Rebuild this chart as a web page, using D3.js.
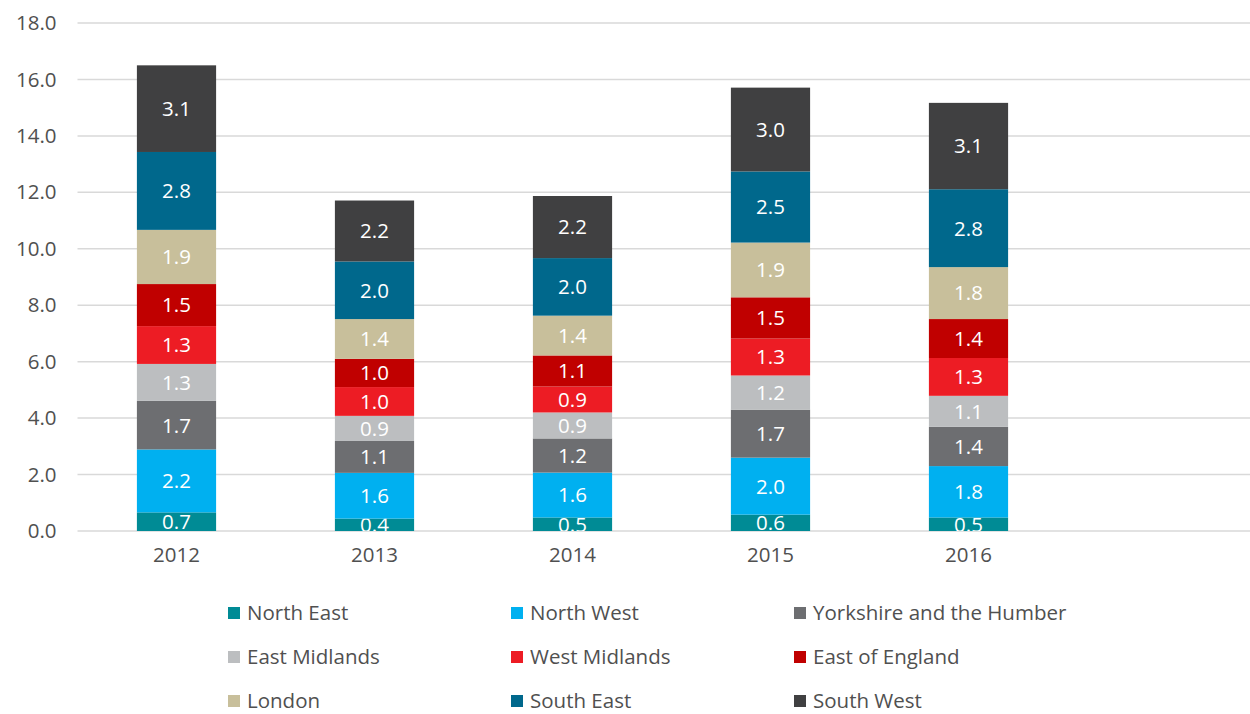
<!DOCTYPE html>
<html>
<head>
<meta charset="utf-8">
<script src="https://cdn.jsdelivr.net/npm/d3@7"></script>
<style>
  body { margin: 0; background: #fff; }
  svg { display: block; font-family: "Open Sans", sans-serif; }
</style>
</head>
<body>
<div id="chart"></div>
<script>
// categories (last slot is empty in the original)
const years = ["2012", "2013", "2014", "2015", "2016", ""];
const regions = ["North East", "North West", "Yorkshire and the Humber", "East Midlands",
  "West Midlands", "East of England", "London", "South East", "South West"];
const colors = ["#008b95", "#00b0f0", "#6d6e71", "#bcbec0", "#ed1c24", "#c00000", "#c8bf9b", "#00688c", "#404041"];

// values per region, one per year (2012..2016)
const northEast   = [0.66, 0.44, 0.48, 0.58, 0.48];
const northWest   = [2.23, 1.62, 1.59, 2.02, 1.82];
const yorkshire   = [1.72, 1.13, 1.21, 1.70, 1.39];
const eastMid     = [1.31, 0.89, 0.92, 1.21, 1.10];
const westMid     = [1.34, 1.02, 0.92, 1.31, 1.34];
const eastEngland = [1.49, 1.00, 1.10, 1.46, 1.38];
const london      = [1.92, 1.41, 1.41, 1.94, 1.84];
const southEast   = [2.76, 2.04, 2.04, 2.52, 2.76];
const southWest   = [3.07, 2.16, 2.20, 2.97, 3.06];

const yTicks = [0, 2, 4, 6, 8, 10, 12, 14, 16, 18];

const series = [northEast, northWest, yorkshire, eastMid, westMid, eastEngland, london, southEast, southWest];

const rows = years.slice(0, 5).map((yr, i) => {
  const r = { year: yr };
  regions.forEach((name, j) => r[name] = series[j][i]);
  return r;
});

const width = 1250, height = 714;
const margin = { top: 23, bottom: 183, left: 77.5 };
const fs = 20.5;
const textColor = "#505050";

const svg = d3.select("#chart").append("svg")
  .attr("width", width)
  .attr("height", height);

const x = d3.scaleBand()
  .domain(years)
  .range([margin.left, margin.left + 198 * 6])
  .paddingInner(0.6)
  .paddingOuter(0.3);

const y = d3.scaleLinear()
  .domain([0, 18])
  .range([height - margin.bottom, margin.top]);

// gridlines
svg.append("g")
  .selectAll("line")
  .data(yTicks)
  .join("line")
  .attr("x1", margin.left)
  .attr("x2", width)
  .attr("y1", d => y(d))
  .attr("y2", d => y(d))
  .attr("stroke", "#d9d9d9")
  .attr("stroke-width", 1.5);

// y axis labels
const yAxis = svg.append("g")
  .attr("transform", `translate(${margin.left - 21}, 0)`)
  .call(d3.axisLeft(y).tickValues(yTicks).tickFormat(d3.format(".1f")).tickSize(0));
yAxis.select(".domain").remove();
yAxis.selectAll("text")
  .attr("font-size", fs)
  .attr("font-family", "Open Sans, sans-serif")
  .attr("fill", textColor)
  .attr("x", 0);

// x axis labels
const xAxis = svg.append("g")
  .attr("transform", `translate(0, ${y(0)})`)
  .call(d3.axisBottom(x).tickSize(0));
xAxis.select(".domain").remove();
xAxis.selectAll("text")
  .attr("font-size", fs)
  .attr("font-family", "Open Sans, sans-serif")
  .attr("fill", textColor)
  .attr("dy", "1.35em");

const stacked = d3.stack().keys(regions)(rows);

svg.append("clipPath").attr("id", "plotClip")
  .append("rect")
  .attr("x", 0).attr("y", 0)
  .attr("width", width).attr("height", y(0));

const layers = svg.append("g")
  .attr("clip-path", "url(#plotClip)")
  .selectAll("g")
  .data(stacked)
  .join("g")
  .attr("fill", (d, i) => colors[i]);

layers.selectAll("rect")
  .data(d => d)
  .join("rect")
  .attr("x", d => x(d.data.year))
  .attr("y", d => y(d[1]))
  .attr("width", x.bandwidth())
  .attr("height", d => y(d[0]) - y(d[1]));

layers.selectAll("text")
  .data(d => d)
  .join("text")
  .attr("x", d => x(d.data.year) + x.bandwidth() / 2)
  .attr("y", d => (y(d[0]) + y(d[1])) / 2)
  .attr("dy", "0.36em")
  .attr("text-anchor", "middle")
  .attr("font-size", fs)
  .attr("fill", "#fff")
  .text(d => (d[1] - d[0]).toFixed(1));

// legend
const legend = svg.append("g")
  .selectAll("g")
  .data(regions)
  .join("g")
  .attr("transform", (d, i) => `translate(${228 + (i % 3) * 283}, ${613 + Math.floor(i / 3) * 44})`);

legend.append("rect")
  .attr("x", 0).attr("y", -6)
  .attr("width", 12).attr("height", 12)
  .attr("fill", (d, i) => colors[i]);

legend.append("text")
  .attr("x", 19)
  .attr("dy", "0.36em")
  .attr("font-size", fs)
  .attr("fill", textColor)
  .text(d => d);
</script>
</body>
</html>
